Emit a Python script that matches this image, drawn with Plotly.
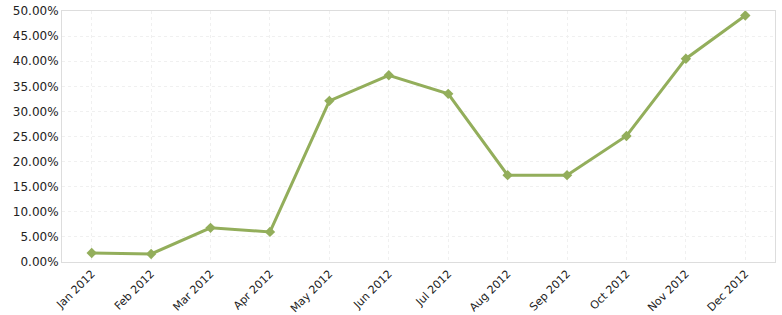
import plotly.graph_objects as go

months = ["Jan 2012", "Feb 2012", "Mar 2012", "Apr 2012", "May 2012", "Jun 2012",
          "Jul 2012", "Aug 2012", "Sep 2012", "Oct 2012", "Nov 2012", "Dec 2012"]
values = [1.8, 1.6, 6.8, 6.0, 32.1, 37.2, 33.5, 17.3, 17.3, 25.1, 40.5, 49.1]
y_ticks = [0, 5, 10, 15, 20, 25, 30, 35, 40, 45, 50]
y_labels = [f"{v:.2f}%" for v in y_ticks]

fig = go.Figure()
fig.add_trace(go.Scatter(
    x=months, y=values, mode="lines+markers",
    line=dict(color="#93AE5B", width=3),
    marker=dict(symbol="diamond", size=8, color="#93AE5B"),
    showlegend=False,
))

fig.update_layout(
    width=782, height=315,
    margin=dict(l=62, r=7, t=11, b=53),
    paper_bgcolor="white", plot_bgcolor="white",
    font=dict(family="DejaVu Sans", size=11, color="#333333"),
)
fig.update_xaxes(
    type="category", range=[-0.5, 11.5], tickangle=-45, automargin=False,
    showgrid=True, gridcolor="#f0f0f0", griddash="dot", gridwidth=1,
    showline=True, linecolor="#dddddd", mirror=True, ticks="",
    tickfont=dict(size=11, color="#222222"),
)
fig.update_yaxes(
    range=[0, 50], tickvals=y_ticks, ticktext=y_labels, automargin=False,
    showgrid=True, gridcolor="#f0f0f0", griddash="dot", gridwidth=1,
    showline=True, linecolor="#dddddd", mirror=True, ticks="",
    zeroline=False, tickfont=dict(size=12, color="#222222"),
)

fig.write_html("out.html")
